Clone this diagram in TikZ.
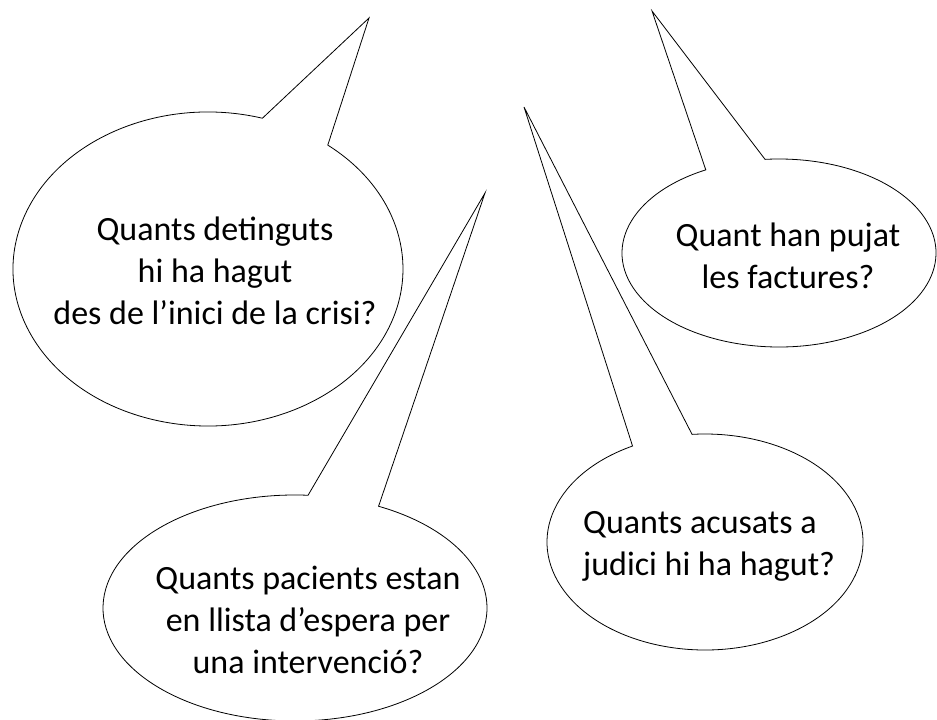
\documentclass[tikz,border=0pt]{standalone}
\usepackage{fontspec}
\setmainfont{Carlito}
\usetikzlibrary{positioning}

\begin{document}
\begin{tikzpicture}[
    x=1pt, y=1pt,
    bubble/.style={
        draw=black, line width=0.8pt, fill=white,
    },
    question/.style={
        font=\fontsize{34}{42}\selectfont, align=center, inner sep=0pt,
    },
]
\useasboundingbox (0,0) rectangle (937,720);

% --- Bubble 1: detinguts ---
\coordinate (c1) at (208,451);
\coordinate (t1) at (369,702);
\draw[bubble] ([shift={(73.8:195 and 157)}]c1)
    arc[start angle=73.8, end angle=412.1, x radius=195, y radius=157]
    -- (t1) -- cycle;
\node[question] (q1) at (215,449) {Quants detinguts\\hi ha hagut\\des de l’inici de la crisi?};

% --- Bubble 2: factures ---
\coordinate (c2) at (779,467);
\coordinate (t2) at (652,709);
\draw[bubble] ([shift={(117.8:157 and 94)}]c2)
    arc[start angle=117.8, end angle=455.1, x radius=157, y radius=94]
    -- (t2) -- cycle;
\node[question] (q2) at (788,464) {Quant han pujat\\les factures?};

% --- Bubble 3: pacients ---
\coordinate (c3) at (295,112);
\coordinate (t3) at (485,527);
\draw[bubble] ([shift={(86.1:192 and 113)}]c3)
    arc[start angle=86.1, end angle=424.2, x radius=192, y radius=113]
    -- (t3) -- cycle;
\node[question] (q3) at (308,100) {Quants pacients estan\\en llista d’espera per\\una intervenció?};

% --- Bubble 4: acusats ---
\coordinate (c4) at (705,178);
\coordinate (t4) at (524,613);
\draw[bubble] ([shift={(117.3:158 and 108)}]c4)
    arc[start angle=117.3, end angle=454.7, x radius=158, y radius=108]
    -- (t4) -- cycle;
\node[question, align=left, anchor=west] (q4) at (583,174) {Quants acusats a\\judici hi ha hagut?};

\end{tikzpicture}
\end{document}
